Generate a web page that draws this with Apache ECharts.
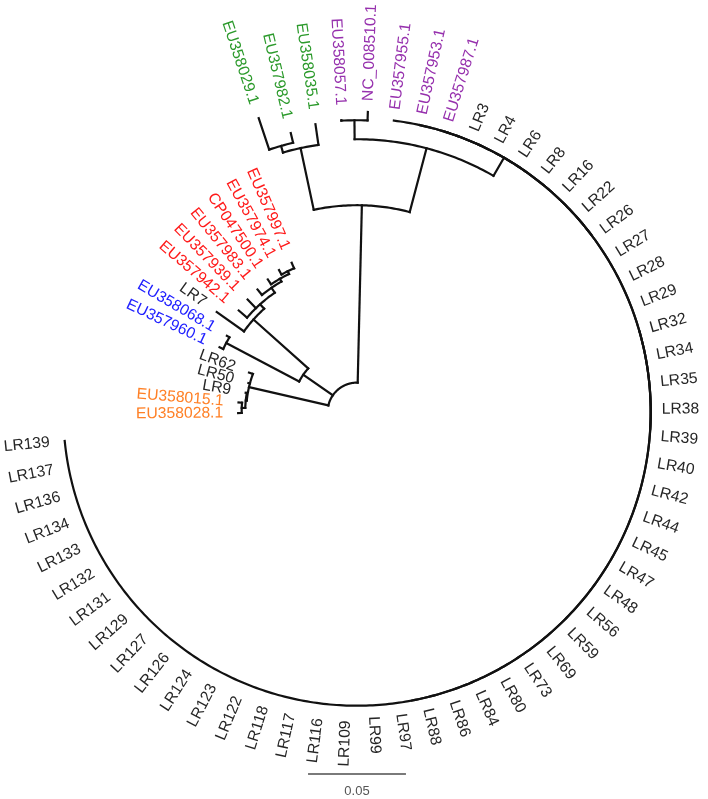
<!DOCTYPE html>
<html><head><meta charset="utf-8">
<script src="https://cdn.jsdelivr.net/npm/echarts@6/dist/echarts.min.js"></script>
<style>html,body{margin:0;padding:0;background:#fff}#c{width:708px;height:799px}</style>
</head><body><div id="c"></div>
<script>
// ---- Leaves, in clockwise order (angle position = index) ----
const leafNames = [
  'EU358028.1','EU358015.1','LR9','LR50','LR62','EU357960.1','EU358068.1','LR7',
  'EU357942.1','EU357939.1','EU357983.1','CP047500.1','EU357974.1','EU357997.1',
  'EU358029.1','EU357982.1','EU358035.1','EU358057.1','NC_008510.1',
  'EU357955.1','EU357953.1','EU357987.1',
  'LR3','LR4','LR6','LR8','LR16','LR22','LR26','LR27','LR28','LR29','LR32','LR34','LR35','LR38',
  'LR39','LR40','LR42','LR44','LR45','LR47','LR48','LR56','LR59','LR69','LR73','LR80','LR84',
  'LR86','LR88','LR97','LR99','LR109','LR116','LR117','LR118','LR122','LR123','LR124','LR126',
  'LR127','LR129','LR131','LR132','LR133','LR134','LR136','LR137','LR139'
];
const leafGroups = [
  'orange','orange','black','black','black','blue','blue','black',
  'red','red','red','red','red','red',
  'green','green','green','purple','purple',
  'purple','purple','purple'
].concat(new Array(48).fill('black'));
const leafParents = [
  'OR','OR','X','O','O','BL','BL','RL',
  'RD','RD','R3','R4','R5','R5',
  'G1','G1','G','Q','Q',
  'B','B1','B2'
].concat(new Array(10).fill('B2'), new Array(38).fill('B3'));
// distance from root (substitutions per site)
const leafDepths = [
  0.0457,0.0457,0.0427,0.0424,0.0437,0.0626,0.0620,0.0730,
  0.0646,0.0651,0.0656,0.0666,0.0677,0.0682,
  0.1432,0.1314,0.1335,0.1342,0.1383,
  0.1350,0.1350,0.1350
].concat(new Array(48).fill(0.1350));

// ---- Internal nodes ----
const nodeNames   = ['root','T','G','G1','P','Q','B','B1','B2','B3','O','X','OR','RB','BL','RL','RD','R3','R4','R5'];
const nodeParents = [null,'root','T','G','T','P','P','B','B1','B2','root','O','X','root','RB','RB','RL','RD','R3','R4'];
const nodeDepths  = [0,0.0906,0.1228,0.1263,0.1243,0.1340,0.1350,0.1350,0.1350,0.1350,
                     0.0416,0.0421,0.0439,0.0184,0.0605,0.0559,0.0590,0.0620,0.0636,0.0651];

const scaleBarValue = 0.05;
const scaleBarLabel = '0.05';

const groupColors = {black:'#262626', red:'#ff1a1a', blue:'#2020ff', orange:'#ff8026', green:'#2c9a2c', purple:'#9630ad'};
const R_MIN = -0.015, R_MAX = 0.2;

// ---- layout: angles of internal nodes = midpoint of children span ----
const children = {};
nodeNames.forEach(n => children[n] = []);
nodeParents.forEach((p, i) => { if (p) children[p].push({type:'node', name: nodeNames[i]}); });
leafParents.forEach((p, i) => children[p].push({type:'leaf', idx: i}));
const nodeAngle = {}, nodeSpan = {};
function angleOf(c) { return c.type === 'leaf' ? c.idx : computeNode(c.name); }
function computeNode(n) {
  if (nodeAngle[n] !== undefined) return nodeAngle[n];
  const as = children[n].map(angleOf);
  const lo = Math.min(...as), hi = Math.max(...as);
  nodeSpan[n] = [lo, hi];
  nodeAngle[n] = (lo + hi) / 2;
  return nodeAngle[n];
}
computeNode('root');
const depthOf = {};
nodeNames.forEach((n, i) => depthOf[n] = nodeDepths[i]);

const treeData = [];
nodeNames.forEach((n, i) => {
  const p = nodeParents[i];
  treeData.push([nodeDepths[i], nodeAngle[n], p ? depthOf[p] : nodeDepths[i], nodeSpan[n][0], nodeSpan[n][1]]);
});
leafNames.forEach((n, i) => {
  treeData.push([leafDepths[i], i, depthOf[leafParents[i]], i, i]);
});
const labelData = leafNames.map((n, i) => [leafDepths[i], i]);

const LINE = {stroke:'#111', lineWidth:2.2, lineCap:'square', fill:null};

function renderBranch(params, api) {
  const d = api.value(0), a = api.value(1), pd = api.value(2), a0 = api.value(3), a1 = api.value(4);
  const els = [];
  if (Math.abs(pd - d) > 1e-9) {
    const p1 = api.coord([pd, a]), p2 = api.coord([d, a]);
    els.push({type:'line', shape:{x1:p1[0], y1:p1[1], x2:p2[0], y2:p2[1]}, style: LINE});
  }
  if (a1 > a0) {
    const n = Math.max(2, Math.ceil((a1 - a0) * 8));
    const pts = [];
    for (let k = 0; k <= n; k++) pts.push(api.coord([d, a0 + (a1 - a0) * k / n]));
    els.push({type:'polyline', shape:{points: pts}, style: LINE});
  }
  return {type:'group', children: els};
}

function renderLabel(params, api) {
  const i = params.dataIndex;
  const d = api.value(0), a = api.value(1);
  const p = api.coord([d, a]);
  const c = api.coord([R_MIN, a]);
  let dx = p[0] - c[0], dy = p[1] - c[1];
  const len = Math.hypot(dx, dy); dx /= len; dy /= len;
  const ang = Math.atan2(-dy, dx);
  const right = dx >= 0;
  const gap = right ? 11 : 15;
  return {
    type:'text', x: p[0] + dx * gap, y: p[1] + dy * gap,
    rotation: right ? ang : ang - Math.PI,
    style: {text: leafNames[i], fill: groupColors[leafGroups[i]],
      font: '15.7px "Liberation Sans", Arial, sans-serif',
      align: right ? 'left' : 'right', verticalAlign: 'middle'}
  };
}

function renderScale(params, api) {
  const c = api.coord([R_MIN, 0]);
  const e = api.coord([R_MIN + scaleBarValue, 0]);
  const len = Math.hypot(e[0] - c[0], e[1] - c[1]);
  const y = 774;
  return {type:'group', children:[
    {type:'line', shape:{x1: c[0] - len/2, y1: y, x2: c[0] + len/2, y2: y}, style:{stroke:'#7a7a7a', lineWidth:2}},
    {type:'text', x: c[0], y: y + 17, style:{text: scaleBarLabel, fill:'#555', font:'13px "Liberation Sans", Arial, sans-serif', align:'center', verticalAlign:'middle'}}
  ]};
}

const chart = echarts.init(document.getElementById('c'), null, {renderer:'canvas'});
chart.setOption({
  animation: false,
  backgroundColor: '#fff',
  polar: {center: [357, 412], radius: 421},
  angleAxis: {type:'value', min:0, max: leafNames.length, startAngle: 180.5, clockwise: true,
    show:false, axisLine:{show:false}, axisTick:{show:false}, axisLabel:{show:false}, splitLine:{show:false}},
  radiusAxis: {type:'value', min: R_MIN, max: R_MAX,
    show:false, axisLine:{show:false}, axisTick:{show:false}, axisLabel:{show:false}, splitLine:{show:false}},
  series: [
    {type:'custom', coordinateSystem:'polar', silent:true, data: treeData, encode:{radius:0, angle:1}, renderItem: renderBranch},
    {type:'custom', coordinateSystem:'polar', silent:true, data: labelData, encode:{radius:0, angle:1}, renderItem: renderLabel},
    {type:'custom', coordinateSystem:'polar', silent:true, data: [[0, 0]], encode:{radius:0, angle:1}, renderItem: renderScale}
  ]
});
</script></body></html>
